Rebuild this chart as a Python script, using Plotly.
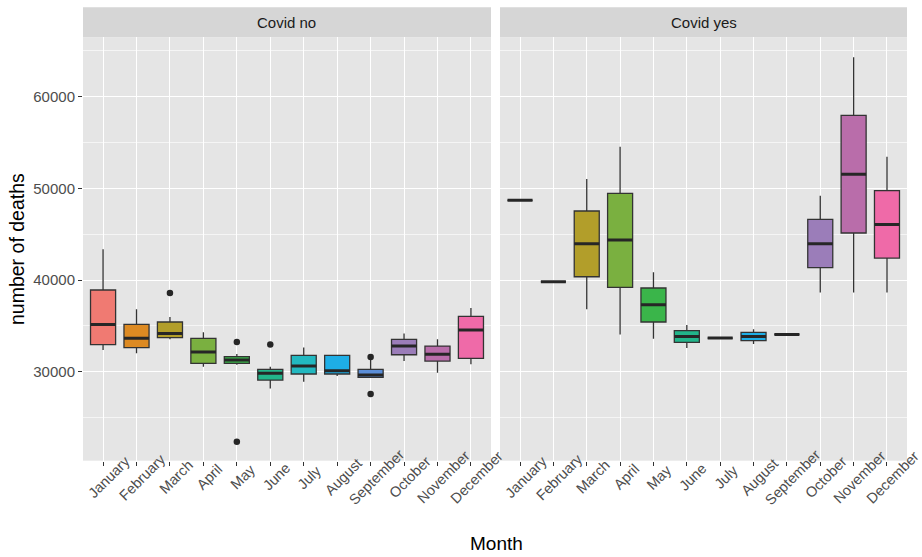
import plotly.graph_objects as go

months = ["January", "February", "March", "April", "May", "June", "July",
          "August", "September", "October", "November", "December"]

colors = ["#F07A72", "#DD8A22", "#B29E2A", "#7AB040", "#3AB54A", "#22B58A",
          "#22B8C0", "#1EAEE6", "#5B8ED8", "#9B7DB9", "#B96DAA", "#EF6AA8"]

# Covid no: box statistics per month
no_low = [32360, 32000, 33530, 30550, 30760, 28180, 28910, 29530, 29380, 31160, 29890, 30800]
no_q1 = [32950, 32620, 33710, 30910, 30910, 29090, 29750, 29750, 29380, 31850, 31160, 31450]
no_med = [35160, 33640, 34180, 32150, 31270, 29820, 30620, 30110, 29640, 32800, 31890, 34550]
no_q3 = [38910, 35160, 35420, 33640, 31640, 30250, 31780, 31780, 30250, 33530, 32800, 36040]
no_high = [43350, 36800, 35960, 34290, 31930, 30550, 32650, 31780, 31270, 34180, 33530, 36950]
no_out_month = ["March", "May", "May", "June", "September", "September"]
no_out_value = [38580, 33240, 22360, 32980, 31600, 27560]

# Covid yes: box statistics per month
yes_low = [48690, 39820, 36800, 34070, 33600, 32580, 33670, 33020, 34070, 38650, 38650, 38650]
yes_q1 = [48690, 39820, 40360, 39200, 35420, 33200, 33670, 33380, 34070, 41350, 45130, 42400]
yes_med = [48690, 39820, 43960, 44360, 37310, 33850, 33670, 33850, 34070, 43960, 51530, 46070]
yes_q3 = [48690, 39820, 47530, 49450, 39130, 34470, 33670, 34290, 34070, 46620, 57960, 49750]
yes_high = [48690, 39820, 51020, 54550, 40840, 35090, 33670, 34620, 34070, 49200, 64290, 53450]

y_ticks = [30000, 40000, 50000, 60000]

panels = [
    ("x", "y", "Covid no", no_low, no_q1, no_med, no_q3, no_high, no_out_month, no_out_value),
    ("x2", "y2", "Covid yes", yes_low, yes_q1, yes_med, yes_q3, yes_high, [], []),
]

W, H = 922, 557
FONT = "Liberation Sans, Arial, sans-serif"
BOX_W = 0.75

fig = go.Figure()
shapes = []
annotations = []

for xa, ya, title, low, q1, med, q3, high, om, ov in panels:
    for i, m in enumerate(months):
        fig.add_trace(go.Box(
            x=[m], q1=[q1[i]], median=[med[i]], q3=[q3[i]],
            lowerfence=[low[i]], upperfence=[high[i]],
            fillcolor=colors[i], line=dict(color="#333333", width=1.3),
            whiskerwidth=0, width=BOX_W, boxpoints=False,
            xaxis=xa, yaxis=ya, showlegend=False, hoverinfo="y",
        ))
        # thicker median bar
        shapes.append(dict(type="line", xref=xa, yref=ya,
                           x0=i - BOX_W / 2, x1=i + BOX_W / 2,
                           y0=med[i], y1=med[i],
                           line=dict(color="#262626", width=3)))
        # month label rotated about its centre, just below the tick
        annotations.append(dict(text=m, xref=xa, yref="paper", x=i, xshift=6,
                                y=(H - 477) / H, textangle=-45, showarrow=False,
                                xanchor="center", yanchor="middle",
                                font=dict(size=14.5, color="#4D4D4D", family=FONT)))
    if om:
        fig.add_trace(go.Scatter(x=om, y=ov, mode="markers",
                                 marker=dict(color="#262626", size=6.5),
                                 xaxis=xa, yaxis=ya, showlegend=False))

x_dom = [[83 / W, 491 / W], [500 / W, 907 / W]]
y_dom = [(H - 460.7) / H, (H - 37.3) / H]
strip_top = (H - 7.3) / H

for k, (xa, ya, title, *_rest) in enumerate(panels):
    d = x_dom[k]
    shapes.append(dict(type="rect", xref="paper", yref="paper",
                       x0=d[0], x1=d[1], y0=y_dom[1], y1=strip_top,
                       fillcolor="#D6D6D6", line=dict(width=0), layer="below"))
    annotations.append(dict(text=title, xref="paper", yref="paper",
                            x=(d[0] + d[1]) / 2, y=(y_dom[1] + strip_top) / 2,
                            showarrow=False, xanchor="center", yanchor="middle",
                            font=dict(size=15, color="#1A1A1A", family=FONT)))

annotations.append(dict(text="number of deaths", xref="paper", yref="paper",
                        x=17 / W, y=(H - 249) / H, textangle=-90, showarrow=False,
                        xanchor="center", yanchor="middle",
                        font=dict(size=19.5, color="#000000", family=FONT)))
annotations.append(dict(text="Month", xref="paper", yref="paper",
                        x=496 / W, y=(H - 543) / H, showarrow=False,
                        xanchor="center", yanchor="middle",
                        font=dict(size=19, color="#000000", family=FONT)))

xaxis_common = dict(
    type="category", categoryorder="array", categoryarray=months,
    range=[-0.6, 11.6], showgrid=True, gridcolor="#FFFFFF", gridwidth=1.1,
    ticks="outside", ticklen=4, tickwidth=1, tickcolor="#333333",
    showticklabels=False,
    showline=False, zeroline=False, automargin=False,
)
yaxis_common = dict(
    range=[20290, 66480], showgrid=True, gridcolor="#FFFFFF", gridwidth=1.1,
    tickvals=y_ticks, ticktext=[str(v) for v in y_ticks],
    minor=dict(tickvals=[25000, 35000, 45000, 55000, 65000], showgrid=True,
               gridcolor="#F5F5F5", gridwidth=0.6, ticks=""),
    zeroline=False, showline=False, automargin=False, domain=y_dom,
)

fig.update_layout(
    width=W, height=H,
    margin=dict(l=0, r=0, t=0, b=0),
    paper_bgcolor="#FFFFFF", plot_bgcolor="#E5E5E5",
    boxmode="overlay", showlegend=False,
    xaxis=dict(xaxis_common, domain=x_dom[0], anchor="y"),
    xaxis2=dict(xaxis_common, domain=x_dom[1], anchor="y2"),
    yaxis=dict(yaxis_common, anchor="x", ticks="outside", ticklen=4, tickwidth=1,
               tickcolor="#333333", tickfont=dict(size=15, color="#4D4D4D", family=FONT)),
    yaxis2=dict(yaxis_common, anchor="x2", matches="y", showticklabels=False, ticks=""),
    shapes=shapes, annotations=annotations,
)

fig.write_html("out.html")
